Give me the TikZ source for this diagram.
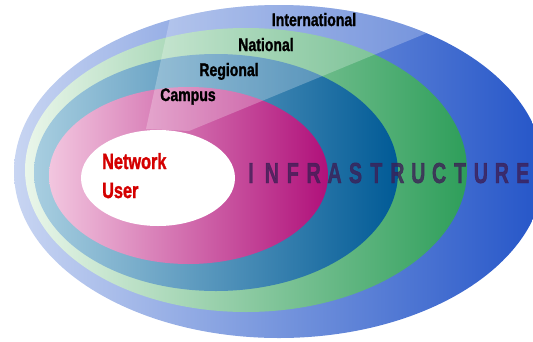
\documentclass[tikz,border=0pt]{standalone}
\usepackage{fontspec}
\setmainfont{Liberation Sans}
\newfontfamily\heavyfont[BoldFeatures={FakeBold=1.6}]{Liberation Sans}
\definecolor{blueL}{HTML}{C8D5F2}
\definecolor{blueR}{HTML}{2455C8}
\definecolor{greenL}{HTML}{EAF6EA}
\definecolor{greenR}{HTML}{2E9E5A}
\definecolor{tealL}{HTML}{A8CEE0}
\definecolor{tealR}{HTML}{005A96}
\definecolor{magL}{HTML}{F2C6DF}
\definecolor{magR}{HTML}{B0107A}
\definecolor{infra}{HTML}{3C1E55}
\definecolor{userred}{HTML}{D40000}
\tikzset{
  ringlbl/.style={anchor=base, inner sep=0pt, text=black, font=\heavyfont\fontsize{18}{18}\selectfont\bfseries},
  userlbl/.style={anchor=base west, inner sep=0pt, text=userred, font=\heavyfont\fontsize{22}{22}\selectfont\bfseries},
  infralbl/.style={anchor=base, inner sep=0pt, text=infra, text opacity=0.78, font=\heavyfont\fontsize{29}{29}\selectfont\bfseries}
}
\begin{document}
\begin{tikzpicture}[x=1pt,y=-1pt]
\useasboundingbox (0,0) rectangle (533,341);
\clip (0,0) rectangle (533,341);
% rings
\shade[left color=blueL, right color=blueR] (279,171.5) ellipse [x radius=265, y radius=166.5];
\shade[left color=greenL, right color=greenR] (246,170) ellipse [x radius=221, y radius=142];
\shade[left color=tealL, right color=tealR] (216,172.5) ellipse [x radius=182, y radius=118.5];
\shade[left color=magL, right color=magR] (188.5,175.5) ellipse [x radius=139.5, y radius=88.5];
% light wedge
\begin{scope}
  \clip (279,171.5) ellipse [x radius=265, y radius=166.5];
  \fill[white, opacity=0.25] (146,129) -- (174,0) -- (507,0) -- (189,131) -- cycle;
\end{scope}
% user
\fill[white] (158,178) ellipse [x radius=77, y radius=48];
% labels
\node[ringlbl] (intl) at (314,26) {\scalebox{0.78}[1]{International}};
\node[ringlbl] (natl) at (266,51) {\scalebox{0.78}[1]{National}};
\node[ringlbl] (regl) at (229,76) {\scalebox{0.78}[1]{Regional}};
\node[ringlbl] (camp) at (188,101) {\scalebox{0.78}[1]{Campus}};
\node[userlbl] (net) at (102,169) {\scalebox{0.74}[1]{Network}};
\node[userlbl] (usr) at (102,198) {\scalebox{0.74}[1]{User}};
\foreach \L [count=\i from 0] in {I,N,F,R,A,S,T,R,U,C,T,U,R,E}
  \node[infralbl] (inf\i) at (251+20.9*\i,183) {\scalebox{0.68}[1]{\L}};
\end{tikzpicture}
\end{document}
